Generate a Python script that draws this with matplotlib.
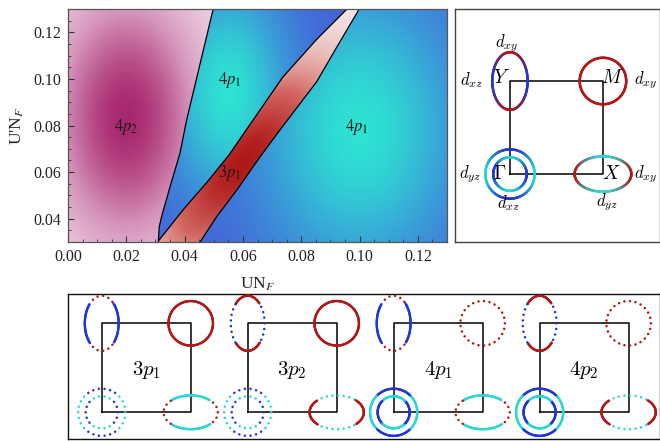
import numpy as np
import matplotlib
matplotlib.use("Agg")
import matplotlib.pyplot as plt
from matplotlib.colors import LinearSegmentedColormap, to_rgb
from matplotlib.collections import LineCollection

plt.rcParams['font.family'] = ['Liberation Serif', 'DejaVu Serif']

# ---- phase diagram data (UN_F, U'N_F) ----
x_range = (0.0, 0.13)
y_range = (0.03, 0.13)

# 4p2 | 4p1 boundary
left_bd_x = [0.0310, 0.0313, 0.0321, 0.0350, 0.0384, 0.0407, 0.0498]
left_bd_y = [0.0304, 0.0366, 0.0409, 0.0537, 0.0681, 0.0824, 0.1300]
# 4p1 | 3p1 boundary (upper-left edge of the band)
band_lo_x = [0.0310, 0.0394, 0.0477, 0.0552, 0.0628, 0.0737, 0.0854, 0.0957]
band_lo_y = [0.0304, 0.0437, 0.0557, 0.0673, 0.0811, 0.1008, 0.1171, 0.1300]
# 3p1 | 4p1 boundary (lower-right edge of the band)
band_hi_x = [0.0453, 0.0510, 0.0579, 0.0659, 0.0727, 0.0853, 0.0933, 0.0999]
band_hi_y = [0.0300, 0.0409, 0.0523, 0.0666, 0.0781, 0.0988, 0.1160, 0.1300]

# shading: peak position and spread of each phase
peak_4p2 = (0.020, 0.083, 0.027, 0.056)
peak_4p1_mid = (0.055, 0.094, 0.022, 0.050)
peak_4p1_right = (0.100, 0.078, 0.036, 0.064)
peak_3p1 = (0.060, 0.064, 0.042, 0.017)
band_dir = (0.514, 0.857)

region_labels = ['4p_2', '4p_1', '3p_1', '4p_1']
region_x = [0.0201, 0.0556, 0.0556, 0.0990]
region_y = [0.0795, 0.0995, 0.0595, 0.0795]

# ---- Fermi surface schematics ----
orb_color = {'xy': '#b01818', 'xz': '#2236d4', 'yz': '#2cd6d2'}
pocket_center = {'G': (0, 0), 'X': (1, 0), 'Y': (0, 1), 'M': (1, 1)}
pocket_size = {'Y': (0.19, 0.31), 'M': (0.25, 0.25), 'X': (0.305, 0.19),
               'G_out': (0.265, 0.265), 'G_in': (0.18, 0.18)}
# (orbital along the x-extremes, orbital along the y-extremes)
pocket_orbitals = {'Y': ('xz', 'xy'), 'M': ('xy', 'xy'), 'X': ('xy', 'yz'),
                   'G_out': ('yz', 'xz'), 'G_in': ('xz', 'yz')}

states = ['3p_1', '3p_2', '4p_1', '4p_2']
solid_Y = [['xz'], ['xy'], ['xz'], ['xy']]
solid_M = [['xy'], ['xy'], [], []]
solid_G = [[], [], ['xz', 'yz'], ['xz', 'yz']]
solid_X = [['yz'], ['xy'], ['yz'], ['xy']]

bz_labels = [r'$Y$', r'$M$', r'$\Gamma$', r'$X$']
bz_label_x = [-0.09, 1.10, -0.108, 1.09]
bz_label_y = [1.03, 1.03, 0.0, 0.0]
orb_labels = [r'$d_{xy}$', r'$d_{xz}$', r'$d_{xy}$', r'$d_{yz}$', r'$d_{xz}$', r'$d_{xy}$', r'$d_{yz}$']
orb_label_x = [-0.035, -0.41, 1.456, -0.43, -0.018, 1.456, 1.04]
orb_label_y = [1.405, 1.011, 1.011, 0.0, -0.315, 0.0, -0.297]


def gauss(X, Y, p):
    cx, cy, sx, sy = p
    return np.exp(-((X - cx) / sx) ** 2 - ((Y - cy) / sy) ** 2)


def draw_pocket(ax, key, ox, solid=None, smooth=False, lw=1.7, dot_gap=0.062):
    cx, cy = pocket_center[key[0]]
    a, b = pocket_size[key]
    c1, c2 = pocket_orbitals[key]
    r1, r2 = np.array(to_rgb(orb_color[c1])), np.array(to_rgb(orb_color[c2]))

    def props(t):
        w = np.cos(t) ** 2
        if smooth:
            cols = w[:, None] * r1 + (1 - w[:, None]) * r2
        else:
            cols = np.where((w > 0.5)[:, None], r1, r2)
        dom = np.where(w > 0.5, c1, c2)
        on = np.ones_like(w, bool) if solid is None else np.isin(dom, solid)
        return cols, on

    t = np.linspace(0, 2 * np.pi, 181)
    x = ox + cx + a * np.cos(t)
    y = cy + b * np.sin(t)
    tm = 0.5 * (t[:-1] + t[1:])
    cols, on = props(tm)
    pts = np.column_stack([x, y])
    segs = np.stack([pts[:-1], pts[1:]], axis=1)
    if on.any():
        lc = LineCollection(segs[on], colors=cols[on], linewidths=lw, zorder=3,
                            capstyle='round', joinstyle='round')
        ax.add_collection(lc)
    # dotted parts
    s = np.concatenate([[0], np.cumsum(np.hypot(np.diff(x), np.diff(y)))])
    n = int(s[-1] / dot_gap)
    td = np.interp(np.arange(n) * s[-1] / n, s, t)
    dcols, don = props(td)
    off = ~don
    if off.any():
        ax.scatter(ox + cx + a * np.cos(td[off]), cy + b * np.sin(td[off]),
                   s=3.2, c=dcols[off], linewidths=0, zorder=3)


fig = plt.figure(figsize=(6.6, 4.41), dpi=100)

# ---------------- phase diagram ----------------
ax = fig.add_axes([68 / 660, 1 - 242 / 441, 379 / 660, 233 / 441])
xs = np.linspace(*x_range, 700)
ys = np.linspace(*y_range, 540)
X, Y = np.meshgrid(xs, ys)
xl = np.interp(Y, left_bd_y, left_bd_x)
xu = np.interp(Y, band_lo_y, band_lo_x)
xr = np.interp(Y, band_hi_y, band_hi_x)

m_4p2 = X < np.minimum(xl, xu)
m_mid = (X >= xl) & (X < xu)
m_band = (X >= np.minimum(xl, xu)) & (X >= xu) & (X < xr)
m_right = X >= xr

cm_4p2 = LinearSegmentedColormap.from_list('c4p2', ['#f6e8f0', '#d696bc', '#a8286e'])
cm_4p1 = LinearSegmentedColormap.from_list('c4p1', ['#4560d8', '#3a9ed8', '#2ee2d2'])
cm_3p1 = LinearSegmentedColormap.from_list('c3p1', ['#f8eeee', '#d26660', '#ae1818'])

u = np.array(band_dir)
dx, dy = X - peak_3p1[0], Y - peak_3p1[1]
along = dx * u[0] + dy * u[1]
perp = dx * u[1] - dy * u[0]
I_band = np.exp(-(along / peak_3p1[2]) ** 2 - (perp / peak_3p1[3]) ** 2)

rgb = np.ones(X.shape + (3,))
rgb[m_4p2] = cm_4p2(gauss(X, Y, peak_4p2)[m_4p2])[:, :3]
rgb[m_mid] = cm_4p1(gauss(X, Y, peak_4p1_mid)[m_mid])[:, :3]
rgb[m_right] = cm_4p1(gauss(X, Y, peak_4p1_right)[m_right])[:, :3]
rgb[m_band] = cm_3p1(I_band[m_band])[:, :3]

ax.imshow(rgb, origin='lower', extent=[*x_range, *y_range], aspect='auto',
          interpolation='bilinear')
for bx, by in [(left_bd_x, left_bd_y), (band_lo_x, band_lo_y), (band_hi_x, band_hi_y)]:
    ax.plot(bx, by, color='k', lw=0.9)

for lab, lx, ly in zip(region_labels, region_x, region_y):
    ax.text(lx, ly, '$' + lab + '$', ha='center', va='center', fontsize=12,
            math_fontfamily='stix', color='#1a1a1a')

ax.set_xlim(*x_range)
ax.set_ylim(*y_range)
ax.set_xticks(np.arange(0, 0.1301, 0.02))
ax.set_yticks(np.arange(0.04, 0.1301, 0.02))
ax.set_xticks(np.arange(0, 0.1301, 0.005), minor=True)
ax.set_yticks(np.arange(0.03, 0.1301, 0.005), minor=True)
ax.xaxis.set_major_formatter(plt.FormatStrFormatter('%.2f'))
ax.yaxis.set_major_formatter(plt.FormatStrFormatter('%.2f'))
ax.tick_params(which='both', direction='in', color='#333333', labelsize=11.5,
               labelcolor='#222222', pad=5)
ax.tick_params(which='major', length=4.5, width=0.8)
ax.tick_params(which='minor', length=2.5, width=0.6)
for sp in ax.spines.values():
    sp.set_color('#555555')
    sp.set_linewidth(0.9)
ax.set_xlabel(r'UN$_F$', fontsize=12.5, labelpad=8, math_fontfamily='stix', color='#222222')
ax.set_ylabel(r"U'N$_F$", fontsize=12.5, labelpad=5, math_fontfamily='stix', color='#222222')

sq_x = np.array([0, 1, 1, 0, 0])
sq_y = np.array([0, 0, 1, 1, 0])

# ---------------- orbital-resolved Fermi surface ----------------
ax2 = fig.add_axes([455 / 660, 1 - 242 / 441, 205 / 660, 233 / 441])
ax2.set_xlim(-0.591, -0.591 + 205 / 93)
ax2.set_ylim(-0.731, -0.731 + 233 / 93)
ax2.set_xticks([])
ax2.set_yticks([])
for sp in ax2.spines.values():
    sp.set_color('#444444')
    sp.set_linewidth(1.0)
ax2.plot(sq_x, sq_y, color='k', lw=1.1, zorder=2)
for key in ['Y', 'M', 'X', 'G_out', 'G_in']:
    draw_pocket(ax2, key, 0, smooth=True, lw=1.8)
for lab, lx, ly in zip(bz_labels, bz_label_x, bz_label_y):
    ax2.text(lx, ly, lab, ha='center', va='center', fontsize=14, math_fontfamily='cm', zorder=4)
for lab, lx, ly in zip(orb_labels, orb_label_x, orb_label_y):
    ax2.text(lx, ly, lab, ha='center', va='center', fontsize=12, math_fontfamily='cm', zorder=4)

# ---------------- gap structure of each state ----------------
ax3 = fig.add_axes([68 / 660, 1 - 439 / 441, 592 / 660, 145 / 441])
ax3.set_facecolor('none')
ax3.set_xlim(-0.379, -0.379 + 592 / 89)
ax3.set_ylim(-0.300, -0.300 + 145 / 89)
ax3.set_xticks([])
ax3.set_yticks([])
for sp in ax3.spines.values():
    sp.set_color('#111111')
    sp.set_linewidth(1.0)
panel_step = 1.64
for i, name in enumerate(states):
    ox = i * panel_step
    ax3.plot(ox + sq_x, sq_y, color='k', lw=1.1, zorder=2)
    for key, solid in [('Y', solid_Y[i]), ('M', solid_M[i]), ('X', solid_X[i]),
                       ('G_out', solid_G[i]), ('G_in', solid_G[i])]:
        draw_pocket(ax3, key, ox, solid=solid, lw=1.7)
    ax3.text(ox + 0.5, 0.47, '$' + name + '$', ha='center', va='center',
             fontsize=15, math_fontfamily='cm')

fig.savefig('out.png', dpi=100)
